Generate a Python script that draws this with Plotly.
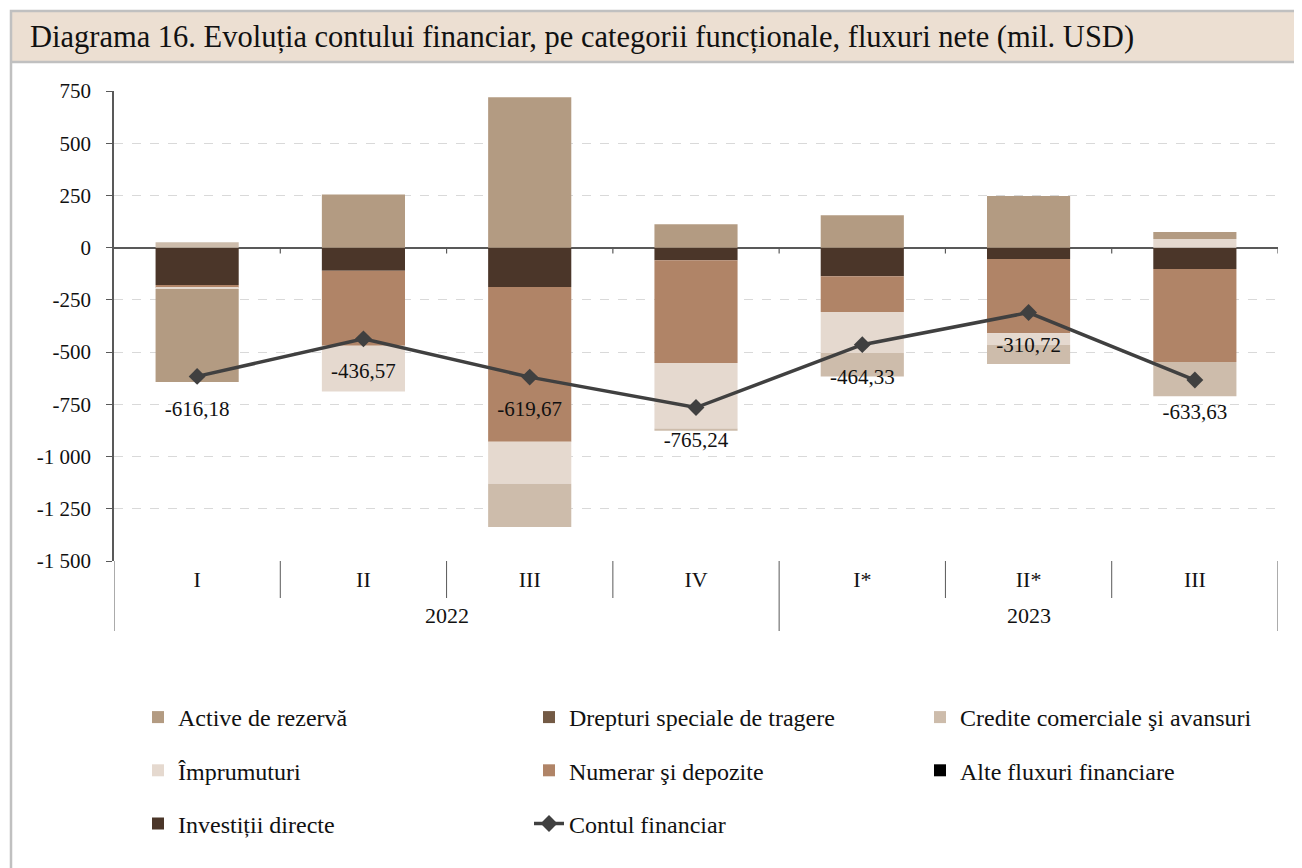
import plotly.graph_objects as go

# ---------------- data ----------------
years = ["2022", "2022", "2022", "2022", "2023", "2023", "2023"]
# the zero-width space keeps the 2023 "III" a separate category from 2022 "III"
quarters = ["I", "II", "III", "IV", "I*", "II*", "III\u200b"]

active_rezerva = [-445, 254, 720, 112, 155, 247, 33]
drepturi_speciale = [0, 0, 0, 0, 0, 0, 0]
credite_comerciale = [26, 0, -207, -11, -113, -91, -164]
imprumuturi = [-6, -220, -201, -314, -196, -56, 42]
numerar_depozite = [-13, -358, -741, -492, -171, -356, -445]
alte_fluxuri = [0, 0, 0, 0, 0, 0, 0]
investitii_directe = [-179, -111, -188, -60, -137, -54, -102]
contul_financiar = [-616.18, -436.57, -619.67, -765.24, -464.33, -310.72, -633.63]

ytick_vals = [750, 500, 250, 0, -250, -500, -750, -1000, -1250, -1500]
ytick_text = ["750", "500", "250", "0", "-250", "-500", "-750", "-1 000", "-1 250", "-1 500"]

title_text = "Diagrama 16. Evoluția contului financiar, pe categorii funcționale, fluxuri nete (mil. USD)"

# ---------------- geometry ----------------
FONT = "Liberation Serif"
OFF = 8                      # page body margin of the html page
W, H = 1302 - OFF, 868 - OFF
L, T, PW, PH = 114 - OFF, 91 - OFF, 1164, 470
R = W - L - PW
B = H - T - PH


def wx(p):
    """paper x for a window pixel x"""
    return (p - OFF - L) / PW


def wy(p):
    """paper y for a window pixel y"""
    return (T + PH - (p - OFF)) / PH


# stacking order (nearest zero first); legend placement given separately
bars = [
    ("Investiții directe", investitii_directe, "#4b3629", "legend", 3),
    ("Alte fluxuri financiare", alte_fluxuri, "#000000", "legend3", 2),
    ("Numerar şi depozite", numerar_depozite, "#b08467", "legend2", 2),
    ("Împrumuturi", imprumuturi, "#e5d9cf", "legend", 2),
    ("Credite comerciale şi avansuri", credite_comerciale, "#cdbcab", "legend3", 1),
    ("Drepturi speciale de tragere", drepturi_speciale, "#735a45", "legend2", 1),
    ("Active de rezervă", active_rezerva, "#b39b82", "legend", 1),
]

fig = go.Figure()
for name, vals, color, leg, rank in bars:
    fig.add_trace(go.Bar(
        x=quarters, y=vals, name=name, marker=dict(color=color, line=dict(width=0)),
        legend=leg, legendgroup=name, legendrank=rank,
    ))

fig.add_trace(go.Scatter(
    x=quarters, y=contul_financiar, name="Contul financiar", mode="lines+markers",
    line=dict(color="#404040", width=3.5),
    marker=dict(symbol="diamond", size=13, color="#404040"),
    legend="legend2", legendgroup="Contul financiar", legendrank=3,
))

# value labels (invisible large markers push the text below the point)
fig.add_trace(go.Scatter(
    x=quarters, y=contul_financiar, mode="markers+text", showlegend=False,
    marker=dict(size=36, color="rgba(0,0,0,0)"),
    text=[f"{v:.2f}".replace(".", ",") for v in contul_financiar],
    textposition="bottom center",
    textfont=dict(family=FONT, size=21, color="#111111"),
    hoverinfo="skip",
))

annotations = [
    dict(text=title_text, xref="paper", yref="paper", x=wx(28), y=wy(37),
         xanchor="left", yanchor="middle", showarrow=False,
         font=dict(family=FONT, size=30.5, color="#111111")),
]
shapes = [
    dict(type="rect", xref="paper", yref="paper", layer="below",
         x0=wx(11), x1=wx(1296), y0=wy(62), y1=wy(11),
         fillcolor="#ecdfd2", line=dict(width=0)),
    dict(type="line", xref="paper", yref="paper",
         x0=wx(11), x1=wx(1296), y0=wy(62), y1=wy(62),
         line=dict(color="#c0c0c0", width=2.5)),
    dict(type="rect", xref="paper", yref="paper",
         x0=wx(11), x1=wx(1296), y0=wy(880), y1=wy(11),
         line=dict(color="#c0c0c0", width=2.5)),
]

# quarter separators (short) and year separators (long), from the category list
for i in range(1, len(quarters)):
    if years[i] == years[i - 1]:
        shapes.append(dict(type="line", xref="x", yref="paper", x0=i - 0.5, x1=i - 0.5,
                           y0=0, y1=wy(598), line=dict(color="#595959", width=1)))
year_bounds = [-0.5] + [i - 0.5 for i in range(1, len(years)) if years[i] != years[i - 1]] \
    + [len(years) - 0.5]
for b in year_bounds:
    shapes.append(dict(type="line", xref="x", yref="paper", x0=b, x1=b,
                       y0=0, y1=wy(631), line=dict(color="#595959", width=1)))
# small category ticks hanging from the zero line
for i in range(1, len(quarters) + 1):
    shapes.append(dict(type="line", xref="x", yref="y", x0=i - 0.5, x1=i - 0.5,
                       y0=0, y1=-28, line=dict(color="#595959", width=1.2)))

# year labels centred under their quarters
for yr in dict.fromkeys(years):
    idx = [i for i, v in enumerate(years) if v == yr]
    annotations.append(dict(
        text=yr, xref="x", yref="paper", x=sum(idx) / len(idx), y=wy(615),
        xanchor="center", yanchor="middle", showarrow=False,
        font=dict(family=FONT, size=22, color="#111111")))

leg_common = dict(
    orientation="v", yanchor="top", xanchor="left",
    font=dict(family=FONT, size=24, color="#111111"),
    bgcolor="rgba(0,0,0,0)", tracegroupgap=19, itemclick=False,
)
leg_y = wy(695)

fig.update_layout(
    width=W, height=H,
    margin=dict(l=L, r=R, t=T, b=B),
    paper_bgcolor="white", plot_bgcolor="white",
    barmode="relative", bargap=0.5,
    font=dict(family=FONT, size=20, color="#111111"),
    legend=dict(x=wx(138), y=leg_y, **leg_common),
    legend2=dict(x=wx(529), y=leg_y, **leg_common),
    legend3=dict(x=wx(920), y=leg_y, **leg_common),
    xaxis=dict(
        type="category", categoryorder="array", categoryarray=quarters,
        range=[-0.5, len(quarters) - 0.5],
        showline=False, showgrid=False, zeroline=False, ticks="",
        tickfont=dict(family=FONT, size=22, color="#111111"),
        ticklabelstandoff=3,
    ),
    yaxis=dict(
        range=[-1500, 750], tickvals=ytick_vals, ticktext=ytick_text,
        showline=True, linecolor="#595959", linewidth=1.5,
        ticks="outside", ticklen=6, tickcolor="#595959",
        showgrid=True, gridcolor="#d9d9d9", griddash="dash", gridwidth=1,
        zeroline=True, zerolinecolor="#595959", zerolinewidth=1.5,
        tickfont=dict(family=FONT, size=21, color="#111111"),
        ticklabelstandoff=11,
    ),
    shapes=shapes,
    annotations=annotations,
)

fig.write_html("out.html")
